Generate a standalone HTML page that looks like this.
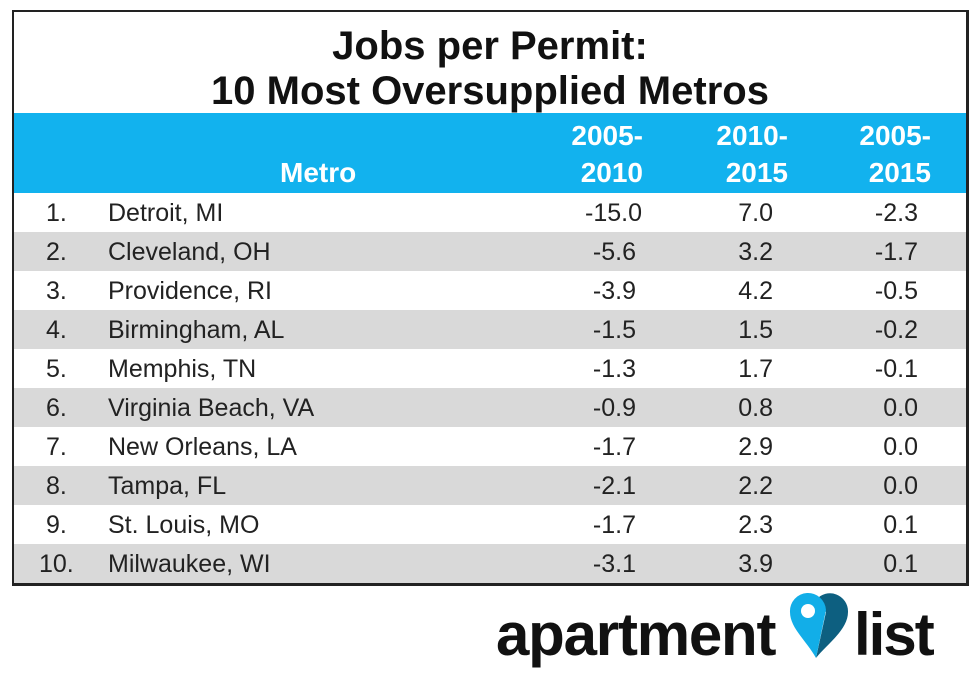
<!DOCTYPE html>
<html><head><style>
body{margin:0;width:980px;height:681px;background:#fff;position:relative;overflow:hidden;font-family:"Liberation Sans",Arial,sans-serif}
#box{position:absolute;left:12px;top:10px;width:952px;height:571px;border:2px solid #222;border-right-width:3px;border-bottom-width:3px}
.t{position:absolute;left:0;width:100%;text-align:center;font-weight:bold;font-size:40px;color:#111}
#hdr{position:absolute;left:0;top:101px;width:100%;height:80px;background:#12b2ee}
.h{position:absolute;color:#fff;font-weight:bold;font-size:28px;text-align:right}
.r{position:absolute;left:0;width:100%;height:39px;font-size:25px;color:#222}
.r span{position:absolute;top:6px}
.g{background:#d9d9d9}
.v{text-align:right;width:100px}
</style></head><body>
<div id="box">
<div class="t" style="top:12px">Jobs per Permit:</div>
<div class="t" style="top:57px">10 Most Oversupplied Metros</div>
<div id="hdr">
<div class="h" style="left:266px;top:44px">Metro</div>
<div class="h" style="left:529px;width:100px;top:7px">2005-</div>
<div class="h" style="left:529px;width:100px;top:44px">2010</div>
<div class="h" style="left:674px;width:100px;top:7px">2010-</div>
<div class="h" style="left:674px;width:100px;top:44px">2015</div>
<div class="h" style="left:817px;width:100px;top:7px">2005-</div>
<div class="h" style="left:817px;width:100px;top:44px">2015</div>
</div>
<div class="r" style="top:181px"><span style="left:32px">1.</span><span style="left:94px">Detroit, MI</span><span class="v" style="left:528px">-15.0</span><span class="v" style="left:659px">7.0</span><span class="v" style="left:804px">-2.3</span></div>
<div class="r g" style="top:220px"><span style="left:32px">2.</span><span style="left:94px">Cleveland, OH</span><span class="v" style="left:522px">-5.6</span><span class="v" style="left:659px">3.2</span><span class="v" style="left:804px">-1.7</span></div>
<div class="r" style="top:259px"><span style="left:32px">3.</span><span style="left:94px">Providence, RI</span><span class="v" style="left:522px">-3.9</span><span class="v" style="left:659px">4.2</span><span class="v" style="left:804px">-0.5</span></div>
<div class="r g" style="top:298px"><span style="left:32px">4.</span><span style="left:94px">Birmingham, AL</span><span class="v" style="left:522px">-1.5</span><span class="v" style="left:659px">1.5</span><span class="v" style="left:804px">-0.2</span></div>
<div class="r" style="top:337px"><span style="left:32px">5.</span><span style="left:94px">Memphis, TN</span><span class="v" style="left:522px">-1.3</span><span class="v" style="left:659px">1.7</span><span class="v" style="left:804px">-0.1</span></div>
<div class="r g" style="top:376px"><span style="left:32px">6.</span><span style="left:94px">Virginia Beach, VA</span><span class="v" style="left:522px">-0.9</span><span class="v" style="left:659px">0.8</span><span class="v" style="left:804px">0.0</span></div>
<div class="r" style="top:415px"><span style="left:32px">7.</span><span style="left:94px">New Orleans, LA</span><span class="v" style="left:522px">-1.7</span><span class="v" style="left:659px">2.9</span><span class="v" style="left:804px">0.0</span></div>
<div class="r g" style="top:454px"><span style="left:32px">8.</span><span style="left:94px">Tampa, FL</span><span class="v" style="left:522px">-2.1</span><span class="v" style="left:659px">2.2</span><span class="v" style="left:804px">0.0</span></div>
<div class="r" style="top:493px"><span style="left:32px">9.</span><span style="left:94px">St. Louis, MO</span><span class="v" style="left:522px">-1.7</span><span class="v" style="left:659px">2.3</span><span class="v" style="left:804px">0.1</span></div>
<div class="r g" style="top:532px"><span style="left:25px">10.</span><span style="left:94px">Milwaukee, WI</span><span class="v" style="left:522px">-3.1</span><span class="v" style="left:659px">3.9</span><span class="v" style="left:804px">0.1</span></div>
</div>
<div style="position:absolute;left:496px;top:600px;font-size:60px;font-weight:bold;letter-spacing:-1.2px;color:#111">apartment</div>
<svg style="position:absolute;left:786px;top:590px" width="66" height="70" viewBox="0 0 66 70">
<path d="M30 68 C40 55 62 40 62 22 A18 18 0 0 0 30 10 L40 22 Z" fill="#0d5f80"/>
<path d="M30 68 L40 20 A18 18 0 0 0 4 22 C4 38 20 50 30 68Z" fill="#12aee8"/>
<circle cx="22" cy="21" r="7" fill="#fff"/>
</svg>
<div style="position:absolute;left:854px;top:600px;font-size:60px;font-weight:bold;letter-spacing:-2px;color:#111">list</div>
</body></html>
